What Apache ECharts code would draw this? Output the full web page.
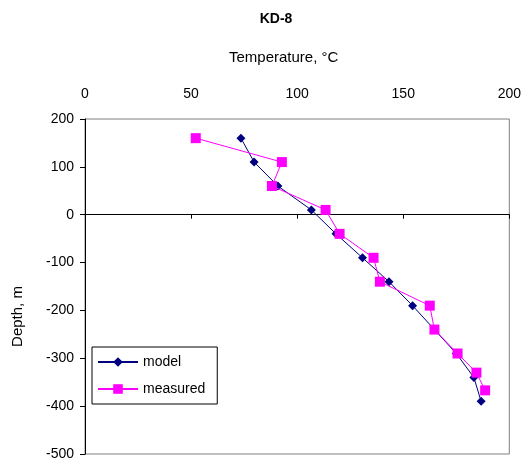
<!DOCTYPE html>
<html>
<head>
<meta charset="utf-8">
<script src="https://cdn.jsdelivr.net/npm/echarts@6/dist/echarts.min.js"></script>
<style>
  html, body { margin: 0; padding: 0; background: #fff; }
  #chart { width: 524px; height: 465px; }
</style>
</head>
<body>
<div id="chart"></div>
<script>
// Temperature profile of well KD-8: modelled vs measured
const depth = [160, 110, 60, 10, -40, -90, -140, -190, -240, -290, -340, -390];
const modelTemp = [73.5, 79.7, 90.9, 106.7, 118.3, 130.8, 143.3, 154.4, 164.7, 175, 183.3, 186.7];

const measuredDepth = [160, 110, 60, 10, -40, -90, -140, -190, -240, -290, -330, -367];
const measuredTemp = [52.2, 92.8, 88.1, 113.4, 120, 136, 139, 162.5, 164.7, 175.6, 184.5, 188.6];

const tempTicks = [0, 50, 100, 150, 200];
const depthTicks = [200, 100, 0, -100, -200, -300, -400, -500];

const FONT = '"Liberation Sans", Arial, sans-serif';

const pairs = (xs, ys) => xs.map((x, i) => [x, ys[i]]);

const chart = echarts.init(document.getElementById('chart'), null, { renderer: 'canvas' });
chart.setOption({
  backgroundColor: '#ffffff',
  animation: false,
  textStyle: { fontFamily: FONT },
  title: {
    text: 'KD-8',
    left: 271, top: 7,
    textAlign: 'center',
    textStyle: { fontFamily: FONT, fontSize: 14, fontWeight: 'bold', color: '#000' }
  },
  grid: {
    left: 85, top: 119, right: 12, bottom: 11,
    show: true, borderColor: '#808080', borderWidth: 1, backgroundColor: '#fff'
  },
  legend: {
    orient: 'vertical',
    left: 92, top: 347,
    padding: [8, 12, 8, 5],
    itemGap: 13,
    itemWidth: 40, itemHeight: 12,
    borderColor: '#000', borderWidth: 1,
    backgroundColor: '#fff',
    textStyle: { fontFamily: FONT, fontSize: 14, color: '#000' },
    data: ['model', 'measured']
  },
  xAxis: {
    type: 'value',
    position: 'top',
    min: tempTicks[0], max: tempTicks[tempTicks.length - 1], interval: 50,
    name: 'Temperature, °C',
    nameLocation: 'middle',
    nameGap: 54,
    nameTextStyle: { fontFamily: FONT, fontSize: 15, color: '#000', padding: [0, 27, 0, 0] },
    axisLine: { show: true, lineStyle: { color: '#000', width: 1 } },
    axisTick: { show: true, inside: true, length: 4, lineStyle: { color: '#000' } },
    axisLabel: { margin: 18, fontFamily: FONT, fontSize: 14, color: '#000' },
    splitLine: { show: false }
  },
  yAxis: {
    type: 'value',
    min: depthTicks[depthTicks.length - 1], max: depthTicks[0], interval: 100,
    name: 'Depth, m',
    nameLocation: 'middle',
    nameGap: 60,
    nameRotate: 90,
    nameTextStyle: { fontFamily: FONT, fontSize: 15, color: '#000', padding: [0, 60, 0, 0] },
    axisLine: { show: true, lineStyle: { color: '#000', width: 1 } },
    axisTick: { show: true, inside: false, length: 5, lineStyle: { color: '#000' } },
    axisLabel: { margin: 11, fontFamily: FONT, fontSize: 14, color: '#000' },
    splitLine: { show: false }
  },
  series: [
    {
      name: 'model',
      type: 'line',
      data: pairs(modelTemp, depth),
      symbol: 'diamond',
      symbolSize: 9,
      color: '#000080',
      lineStyle: { color: '#000080', width: 1 },
      itemStyle: { color: '#000080' },
      z: 3
    },
    {
      name: 'measured',
      type: 'line',
      data: pairs(measuredTemp, measuredDepth),
      symbol: 'rect',
      symbolSize: 10,
      color: '#ff00ff',
      lineStyle: { color: '#ff00ff', width: 1 },
      itemStyle: { color: '#ff00ff' },
      z: 4
    }
  ]
});
</script>
</body>
</html>
